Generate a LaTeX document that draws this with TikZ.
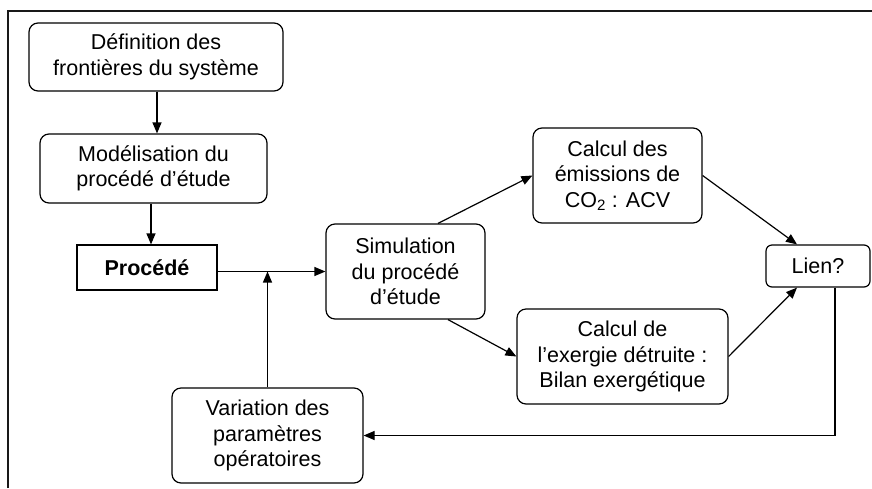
\documentclass[tikz,border=0pt]{standalone}
\usepackage{fontspec}
\setmainfont{Liberation Sans}
\usetikzlibrary{arrows.meta,calc}
\begin{document}
\begin{tikzpicture}[x=1pt,y=-1pt,
  box/.style={draw,line width=1.2pt,rounded corners=9pt,align=center,inner sep=0pt,
    font=\fontsize{21.5}{25.5}\selectfont},
  sharpbox/.style={box,rounded corners=0pt},
  arr/.style={line width=1.2pt,-{Triangle[length=11pt,width=9pt]}},
  frameline/.style={line width=2.6pt,draw=black!90}]
\useasboundingbox (0,0) rectangle (872,488);
\draw[frameline] (8,488) -- (8,11) -- (872,11);
\node[box,minimum width=254pt,minimum height=68pt] (def) at (156,57) {Définition des\\frontières du système};
\node[box,minimum width=227pt,minimum height=69pt] (mod) at (153.5,168.5) {Modélisation du\\procédé d’étude};
\node[sharpbox,minimum width=140pt,minimum height=45pt] (proc) at (147,267.5) {\bfseries Procédé};
\node[box,minimum width=159pt,minimum height=95pt] (sim) at (405.5,271.5) {Simulation\\du procédé\\d’étude};
\node[box,minimum width=169pt,minimum height=95pt] (co2) at (617.5,175.5) {Calcul des\\émissions de\\CO\textsubscript{2} : ACV};
\node[box,minimum width=211pt,minimum height=95pt] (exe) at (622.5,356.5) {Calcul de\\l’exergie détruite :\\Bilan exergétique};
\node[box,minimum width=104pt,minimum height=42pt,rounded corners=6pt] (lien) at (818,266) {Lien?};
\node[box,minimum width=191pt,minimum height=95pt] (var) at (267.5,435.5) {Variation des\\paramètres\\opératoires};
\coordinate (j) at (var.north |- sim.west);
\draw[arr] (def.south -| 157,0) -- (mod.north -| 157,0);
\draw[arr] (mod.south -| 151,0) -- (proc.north -| 151,0);
\draw[arr] (proc.east |- sim.west) -- (sim.west);
\draw[arr] (var.north) -- (j);
\draw[arr] ($(sim.north)+(32.5,0)$) -- (co2.west);
\draw[arr] (co2.east) -- ($(lien.north)+(-21,0)$);
\draw[arr] ($(sim.south)+(42.5,0)$) -- (exe.west);
\draw[arr] (exe.east) -- ($(lien.south)+(-21,0)$);
\coordinate (f) at ($(lien.south)+(17,0)$);
\draw[arr] (f) -- (f |- var.east) -- (var.east);
\end{tikzpicture}
\end{document}
